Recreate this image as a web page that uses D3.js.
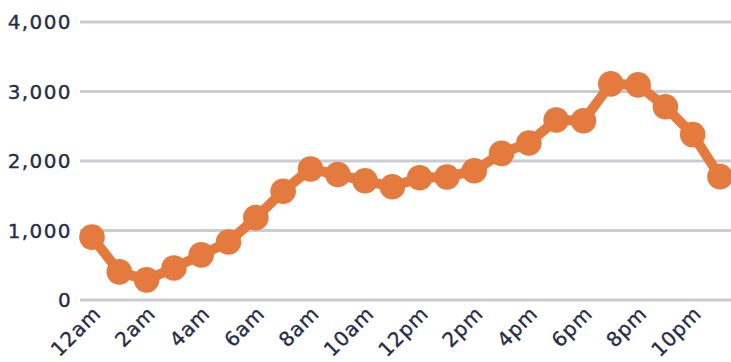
<!DOCTYPE html>
<html><head><meta charset="utf-8">
<script src="https://cdn.jsdelivr.net/npm/d3@7"></script>
<style>
html,body{margin:0;padding:0;background:#fff;}
svg{display:block;}
text{font-family:"DejaVu Sans",sans-serif;fill:#262c48;stroke:#262c48;stroke-width:0.35px;}
</style></head>
<body>
<svg id="chart" width="731" height="362"></svg>
<script>
const hours = ["12am","1am","2am","3am","4am","5am","6am","7am","8am","9am","10am","11am",
               "12pm","1pm","2pm","3pm","4pm","5pm","6pm","7pm","8pm","9pm","10pm","11pm"];
const values = [905,405,290,460,650,835,1185,1565,1885,1805,1715,1630,
                1760,1770,1860,2110,2260,2590,2580,3110,3095,2780,2380,1775];
const yTicks = [0,1000,2000,3000,4000];
const xTickLabels = ["12am","2am","4am","6am","8am","10am","12pm","2pm","4pm","6pm","8pm","10pm"];

const svg = d3.select("#chart");
const x = d3.scalePoint().domain(hours).range([92,720]);
const y = d3.scaleLinear().domain([0,4000]).range([300,22]);

// grid
svg.append("g").selectAll("line").data(yTicks).join("line")
  .attr("x1",80).attr("x2",731)
  .attr("y1",d=>y(d)).attr("y2",d=>y(d))
  .attr("stroke","#cacbd3").attr("stroke-width",3);

// y labels
svg.append("g").selectAll("text").data(yTicks).join("text")
  .attr("x",72).attr("y",d=>y(d)+7)
  .attr("text-anchor","end")
  .style("font-size","20px").style("letter-spacing","1.4px")
  .text(d=>d3.format(",")(d));

// x labels
svg.append("g").selectAll("text").data(xTickLabels).join("text")
  .attr("transform",d=>`translate(${x(d)+10},${315}) rotate(-45)`)
  .attr("text-anchor","end")
  .style("font-size","20px").style("letter-spacing","0.8px")
  .text(d=>d);

const pts = hours.map((h,i)=>({h,v:values[i]}));
svg.append("path").datum(pts)
  .attr("fill","none").attr("stroke","#e57a3e").attr("stroke-width",10)
  .attr("stroke-linejoin","round")
  .attr("d",d3.line().x(d=>x(d.h)).y(d=>y(d.v)));
svg.append("g").selectAll("circle").data(pts).join("circle")
  .attr("cx",d=>x(d.h)).attr("cy",d=>y(d.v)).attr("r",12.8)
  .attr("fill","#e57a3e");
</script>
</body></html>
